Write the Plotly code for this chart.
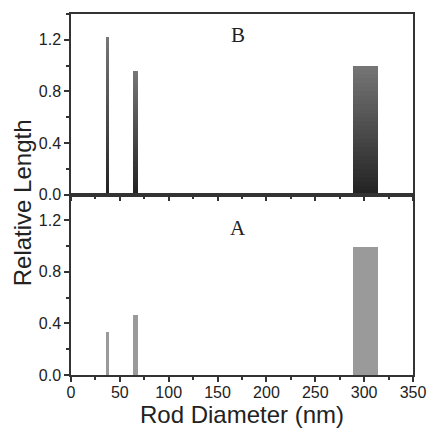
import plotly.graph_objects as go
from plotly.subplots import make_subplots

diameters = [37, 66, 301.5]
widths = [3, 5, 25]
length_B = [1.22, 0.96, 1.0]
length_A = [0.34, 0.47, 1.0]

x_ticks = [0, 50, 100, 150, 200, 250, 300, 350]
y_ticks = [0.0, 0.4, 0.8, 1.2]

fig = make_subplots(rows=2, cols=1, shared_xaxes=True, vertical_spacing=0)

# Panel B: gradient bars (dark bottom -> lighter top) built from stacked segments
N = 30
def lerp(c0, c1, t):
    return tuple(int(round(a + (b - a) * t)) for a, b in zip(c0, c1))
c_bot, c_top = (34, 34, 34), (118, 118, 118)
for k in range(N):
    t = (k + 0.5) / N
    col = "rgb(%d,%d,%d)" % lerp(c_bot, c_top, t)
    fig.add_trace(go.Bar(
        x=diameters, y=[v / N for v in length_B], base=[v * k / N for v in length_B],
        width=widths, marker=dict(color=col, line=dict(width=0)),
        showlegend=False, hoverinfo="skip"), row=1, col=1)

fig.add_trace(go.Bar(x=diameters, y=length_A, width=widths,
                     marker=dict(color="#9a9a9a", line=dict(width=0)),
                     showlegend=False), row=2, col=1)

axis_common = dict(showline=True, linecolor="#333", linewidth=1.5, mirror=True,
                   ticks="outside", tickcolor="#333", tickwidth=1.5, ticklen=5,
                   showgrid=False, zeroline=False, automargin=False)

for r in (1, 2):
    fig.update_xaxes(range=[0, 350], tickvals=x_ticks, ticklabelstandoff=-3,
                     minor=dict(dtick=25, tick0=0, ticks="outside", ticklen=3, tickcolor="#333", tickwidth=1.5),
                     **axis_common, row=r, col=1)
    fig.update_yaxes(range=[0, 1.4], tickvals=y_ticks, ticktext=["0.0", "0.4", "0.8", "1.2"],
                     minor=dict(dtick=0.2, tick0=0, ticks="outside", ticklen=3, tickcolor="#333", tickwidth=1.5),
                     **axis_common, row=r, col=1)

fig.update_xaxes(showticklabels=False, row=1, col=1)
fig.update_xaxes(title=dict(text="Rod Diameter (nm)", font=dict(size=24), standoff=4), row=2, col=1)

fig.add_annotation(text="Relative Length", x=-0.143, y=0.476, xref="paper", yref="paper",
                   xanchor="center", yanchor="middle",
                   textangle=-90, showarrow=False, font=dict(size=24, color="#222"))
fig.add_annotation(text="B", x=0.488, y=0.942, xref="paper", yref="paper", showarrow=False,
                   xanchor="center", yanchor="middle",
                   font=dict(size=21, family="Liberation Serif, Times New Roman, serif", color="#222"))
fig.add_annotation(text="A", x=0.488, y=0.407, xref="paper", yref="paper", showarrow=False,
                   xanchor="center", yanchor="middle",
                   font=dict(size=21, family="Liberation Serif, Times New Roman, serif", color="#222"))

fig.update_layout(width=428, height=429, margin=dict(l=71, r=15, t=14, b=54),
                  barmode="overlay", plot_bgcolor="white", paper_bgcolor="white",
                  font=dict(family="Liberation Sans, Arial, sans-serif", size=16, color="#222"),
                  bargap=0)

fig.write_html("out.html", config={"displayModeBar": False},
               post_script="document.body.style.margin='0';document.body.style.overflow='hidden';")
